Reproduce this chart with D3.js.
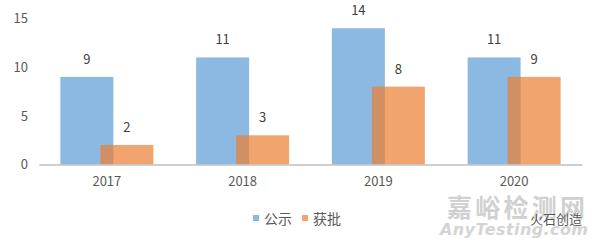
<!DOCTYPE html>
<html><head><meta charset="utf-8">
<script src="https://cdn.jsdelivr.net/npm/d3@7"></script>
<style>body{margin:0;background:#fff}svg{display:block}</style>
</head><body>
<script>
const categories = ["2017","2018","2019","2020"];
const seriesNames = ["公示","获批"];
const gongshi = [9, 11, 14, 11];
const huopi = [2, 3, 8, 9];
const yTicks = [0, 5, 10, 15];

const W = 600, H = 243;
const font = "'Microsoft YaHei','Noto Sans CJK SC','DejaVu Sans',sans-serif";
const svg = d3.select("body").append("svg").attr("width", W).attr("height", H);

const x = d3.scaleBand().domain(categories).range([39, 582]);
const y = d3.scaleLinear().domain([0, 15]).range([164.5, 18.5]);
const barW = 53, offset = 40;
const colors = ["#5B9BD5", "#ED7D31"];
const series = [gongshi, huopi];

// y axis labels
const yAxis = d3.axisLeft(y).tickValues(yTicks).tickSize(0).tickPadding(0);
const gy = svg.append("g").attr("transform", "translate(28,0)").call(yAxis);
gy.select(".domain").remove();
gy.selectAll("text").attr("font-family", font).attr("font-size", 13).attr("fill", "#595959");

series.forEach((vals, si) => {
  const g = svg.append("g");
  g.selectAll("rect").data(vals).enter().append("rect")
    .attr("x", (d, i) => x(categories[i]) + x.bandwidth()/2 - (barW + offset)/2 + si*offset)
    .attr("width", barW)
    .attr("y", d => y(d))
    .attr("height", d => y(0) - y(d))
    .attr("fill", colors[si]).attr("fill-opacity", 0.7);
  g.selectAll("text").data(vals).enter().append("text")
    .attr("x", (d, i) => x(categories[i]) + x.bandwidth()/2 - (barW + offset)/2 + si*offset + barW/2)
    .attr("y", d => y(d) - 13)
    .attr("text-anchor", "middle")
    .attr("font-family", font).attr("font-size", 13).attr("fill", "#404040")
    .text(d => d);
});

// x axis
const xAxis = d3.axisBottom(x).tickSize(0).tickPadding(12);
const gx = svg.append("g").attr("transform", `translate(0,${y(0)})`).call(xAxis);
gx.select(".domain").attr("stroke", "#BFBFBF").attr("stroke-width", 1.5);
gx.selectAll("text").attr("font-family", font).attr("font-size", 13).attr("fill", "#595959");

// legend
const legend = svg.append("g").attr("transform", "translate(253,0)");
const lx = [0, 49];
seriesNames.forEach((n, i) => {
  legend.append("rect").attr("x", lx[i]).attr("y", 215).attr("width", 6).attr("height", 6)
    .attr("fill", colors[i]).attr("fill-opacity", 0.7);
  legend.append("text").attr("x", lx[i] + 11).attr("y", 224)
    .attr("font-family", font).attr("font-size", 14).attr("fill", "#595959").text(n);
});

// watermark
svg.append("text").attr("x", 447).attr("y", 217).attr("font-family", font)
  .attr("font-size", 25).attr("font-weight", "bold").attr("fill", "#d0d0d0").attr("textLength", 138)
  .text("嘉峪检测网");
svg.append("text").attr("x", 440).attr("y", 235).attr("font-family", "'DejaVu Sans',sans-serif")
  .attr("font-size", 16).attr("font-style", "italic").attr("font-weight", "bold").attr("fill", "#d4d4d4")
  .attr("textLength", 148).text("AnyTesting.com");
svg.append("text").attr("x", 530).attr("y", 224).attr("font-family", font)
  .attr("font-size", 13).attr("fill", "#555").text("火石创造");
</script>
</body></html>
